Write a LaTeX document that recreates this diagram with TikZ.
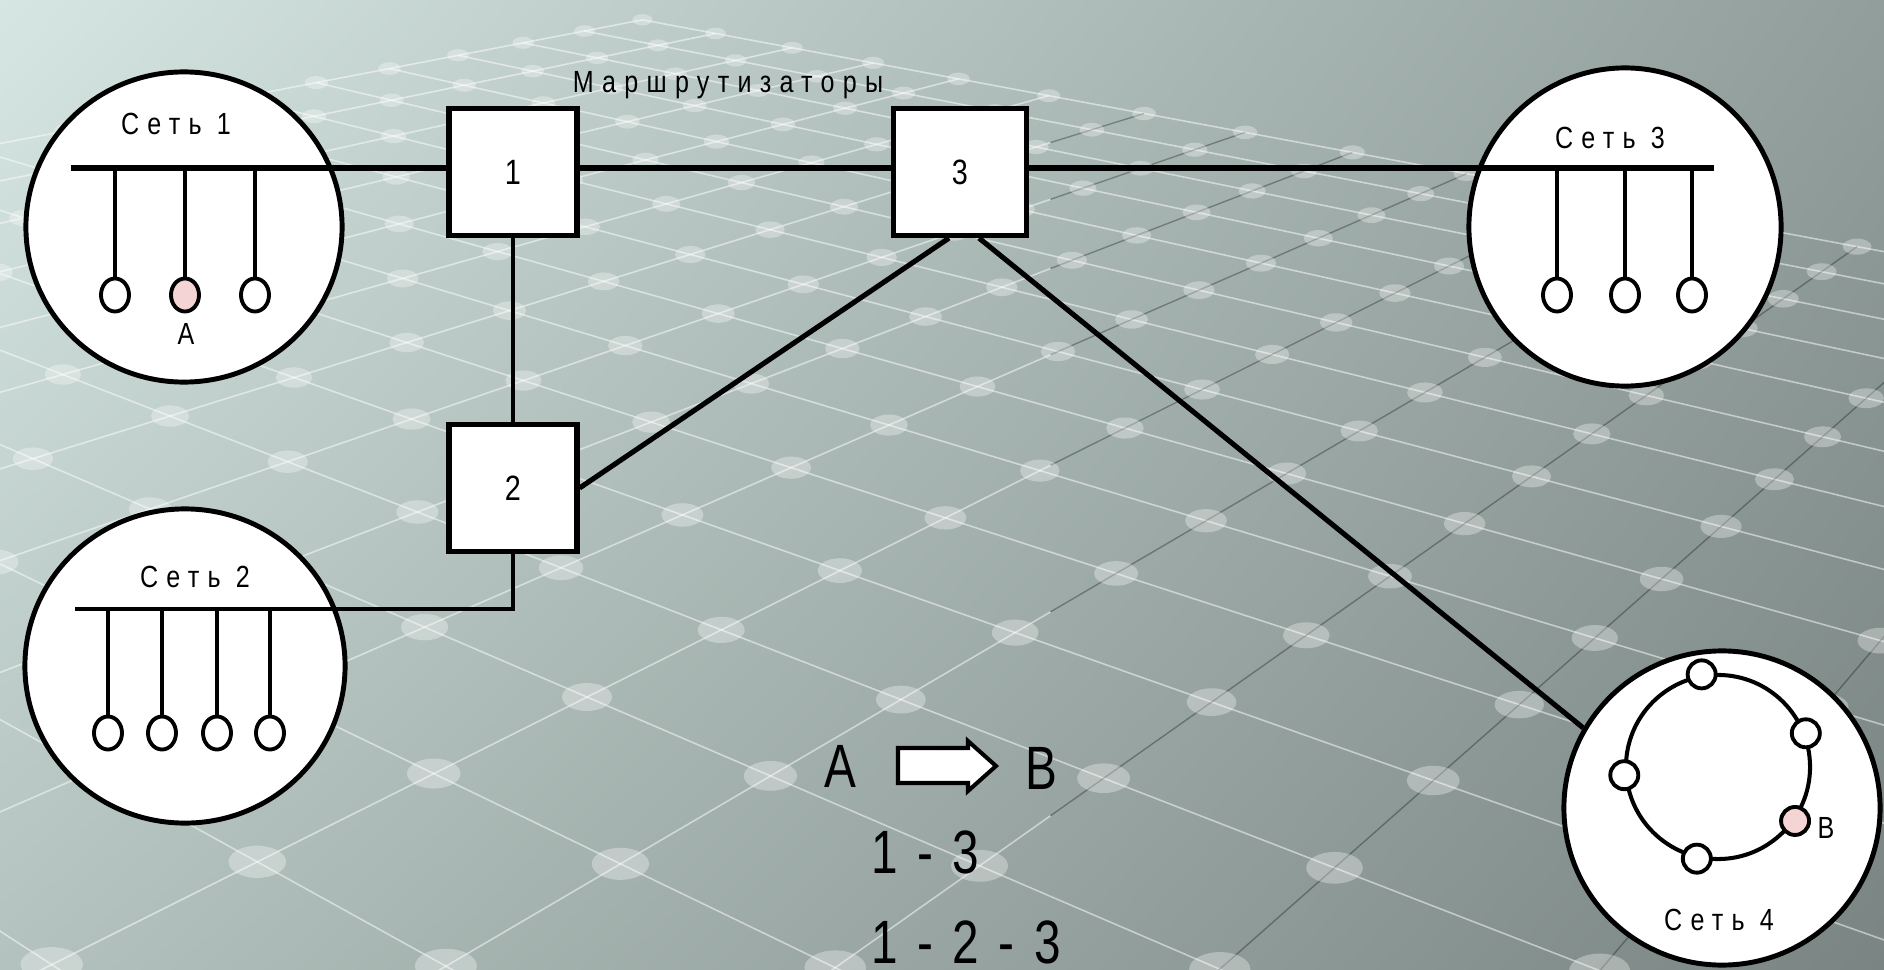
\documentclass[tikz,border=0pt]{standalone}
\usepackage{fontspec}
\newfontfamily\narrowfont[FakeStretch=0.82,LetterSpace=27]{Liberation Sans}
\newfontfamily\bigfont[FakeStretch=0.78,LetterSpace=10]{Liberation Sans}
\newfontfamily\digitfont[FakeStretch=0.82]{Liberation Sans}
\newfontfamily\bigplain[FakeStretch=0.78]{Liberation Sans}
\usetikzlibrary{shapes.geometric,shadings}
\definecolor{bgtl}{HTML}{D6E6E2}
\definecolor{bgtr}{HTML}{919E9B}
\definecolor{bgbl}{HTML}{B3C2BE}
\definecolor{bgbr}{HTML}{7A8583}
\definecolor{pinkfill}{HTML}{F4D4D4}
\newcommand\gpt[2]{%
  \pgfmathsetmacro\gd{1+0.061*(#1)+0.066*(#2)}%
  \pgfmathsetmacro\gx{(587-136.518*(#1)+181.83*(#2))/\gd}%
  \pgfmathsetmacro\gy{(697-31.598*(#1)-25.542*(#2))/\gd}}
\tikzset{
  gridlight/.style={draw=white, draw opacity=0.5, line width=0.45pt},
  griddark/.style={draw=black, draw opacity=0.3, line width=0.4pt},
  griddot/.style={fill=white, fill opacity=0.32},
  net/.style={ellipse, draw, fill=white, line width=1.4pt, inner sep=0pt},
  router/.style={rectangle, draw, fill=white, line width=1.45pt, minimum width=1.28cm, minimum height=1.27cm, inner sep=0pt, font=\digitfont\fontsize{10}{12}\selectfont},
  host/.style={ellipse, draw, fill=white, line width=1.1pt, minimum width=0.28cm, minimum height=0.33cm, inner sep=0pt},
  ringhost/.style={circle, draw, fill=white, line width=1.1pt, minimum size=0.28cm, inner sep=0pt},
  bus/.style={line width=1.5pt},
  drop/.style={line width=1.1pt},
  link/.style={line width=1.45pt},
  lbl/.style={font=\narrowfont\fontsize{8.7}{10}\selectfont, inner sep=0pt},
  big/.style={font=\bigfont\fontsize{17.4}{20}\selectfont, inner sep=0pt},
  bigletter/.style={font=\bigplain\fontsize{17.4}{20}\selectfont, inner sep=0pt},
}
\begin{document}
\begin{tikzpicture}[x=0.01cm, y=-0.01cm]
\path[use as bounding box] (0,0) rectangle (1884,970);
% background
\shade[upper left=bgtl, upper right=bgtr, lower left=bgbl, lower right=bgbr] (0,0) rectangle (1884,970);
\begin{scope}
\clip (0,0) rectangle (1884,970);
\foreach \v in {-4,...,13}{
  \gpt{-6}{\v}\let\xa\gx\let\ya\gy
  \gpt{10}{\v}
  \draw[gridlight] (\xa,\ya) -- (\gx,\gy);
}
\foreach \u in {-6,...,10}{
  \pgfmathsetmacro\vs{min(13,max(-4,4.12+1.783*\u))}
  \gpt{\u}{-4}\let\xa\gx\let\ya\gy
  \gpt{\u}{\vs}\let\xb\gx\let\yb\gy
  \gpt{\u}{13}
  \draw[gridlight] (\xa,\ya) -- (\xb,\yb);
  \draw[griddark] (\xb,\yb) -- (\gx,\gy);
}
\foreach \u in {-6,...,10}{
  \foreach \v in {-4,...,13}{
    \gpt{\u}{\v}
    \fill[griddot] (\gx,\gy) ellipse [x radius={25/\gd}, y radius={14/\gd}];
  }
}
\end{scope}
% networks
\node[net, minimum width=3.16cm, minimum height=3.10cm] (net1) at (184,227) {};
\node[net, minimum width=3.20cm, minimum height=3.14cm] (net2) at (185,666) {};
\node[net, minimum width=3.12cm, minimum height=3.18cm] (net3) at (1625,227) {};
\node[net, minimum width=3.16cm, minimum height=3.14cm] (net4) at (1722,808) {};
% routers
\node[router] (r1) at (513,172) {1};
\node[router, minimum width=1.33cm] (r3) at (960,172) {3};
\node[router] (r2) at (513,488) {2};
% bus end points
\coordinate (b1) at (71,168);
\coordinate (b3) at (1714,168);
\coordinate (b2) at (75,609);
% hosts
\node[host] (h11) at (115,295) {};
\node[host, fill=pinkfill] (h12) at (185,295) {};
\node[host] (h13) at (255,295) {};
\node[host] (h21) at (108,733) {};
\node[host] (h22) at (162,733) {};
\node[host] (h23) at (217,733) {};
\node[host] (h24) at (270,733) {};
\node[host] (h31) at (1557,295) {};
\node[host] (h32) at (1625,295) {};
\node[host] (h33) at (1692,295) {};
% buses
\draw[bus] (b1) -- (b1 -| r1.west);
\draw[bus] (b1 -| r1.east) -- (b1 -| r3.west);
\draw[bus] (b1 -| r3.east) -- (b3);
\foreach \h in {h11,h12,h13,h31,h32,h33}{\draw[drop] (\h |- b1) -- (\h.north);}
\foreach \h in {h21,h22,h23,h24}{\draw[drop] (\h |- b2) -- (\h.north);}
% router links
\coordinate (r3a) at ([xshift=0.19cm]r3.south);
\coordinate (r3b) at ([xshift=-0.11cm]r3.south);
\draw[link, line width=1.2pt] (r1.south) -- (r2.north);
\draw[bus, line width=1.3pt] (r2.south) |- (b2);
\draw[link] (r3b) -- (r2.east);
\draw[link] (r3a) -- (net4.150);
% ring network 4
\node[circle, draw, line width=1.15pt, minimum size=1.84cm, inner sep=0pt] (ring) at (1718,767) {};
\node[ringhost] (g1) at (ring.100) {};
\node[ringhost] (g2) at (ring.21) {};
\node[ringhost] (g3) at (ring.185) {};
\node[ringhost, fill=pinkfill] (g4) at (ring.-35) {};
\node[ringhost] (g5) at (ring.-103) {};
% labels
\node[lbl, anchor=base] (l1) at (176,135) {Сеть 1};
\node[lbl, anchor=base] (l2) at (195,587) {Сеть 2};
\node[lbl, anchor=base] (l3) at (1610,149) {Сеть 3};
\node[lbl, anchor=base] (l4) at (1719,930) {Сеть 4};
\node[lbl, anchor=base] (lr) at (728,93) {Маршрутизаторы};
\node[lbl, anchor=base] (la) at (186,345) {A};
\node[lbl, anchor=base] (lb) at (1826,838) {B};
% route text
\node[bigletter, anchor=base] (ta) at (840,787) {A};
\node[bigletter, anchor=base] (tb) at (1041,789) {B};
\draw[line width=1.15pt, fill=white] (898,748) -- (968,748) -- (968,741) -- (996,766) -- (968,791) -- (968,783) -- (898,783) -- cycle;
\node[big, anchor=base west] (t1) at (871,873) {1 - 3};
\node[big, anchor=base west] (t2) at (871,963) {1 - 2 - 3};
\end{tikzpicture}
\end{document}
